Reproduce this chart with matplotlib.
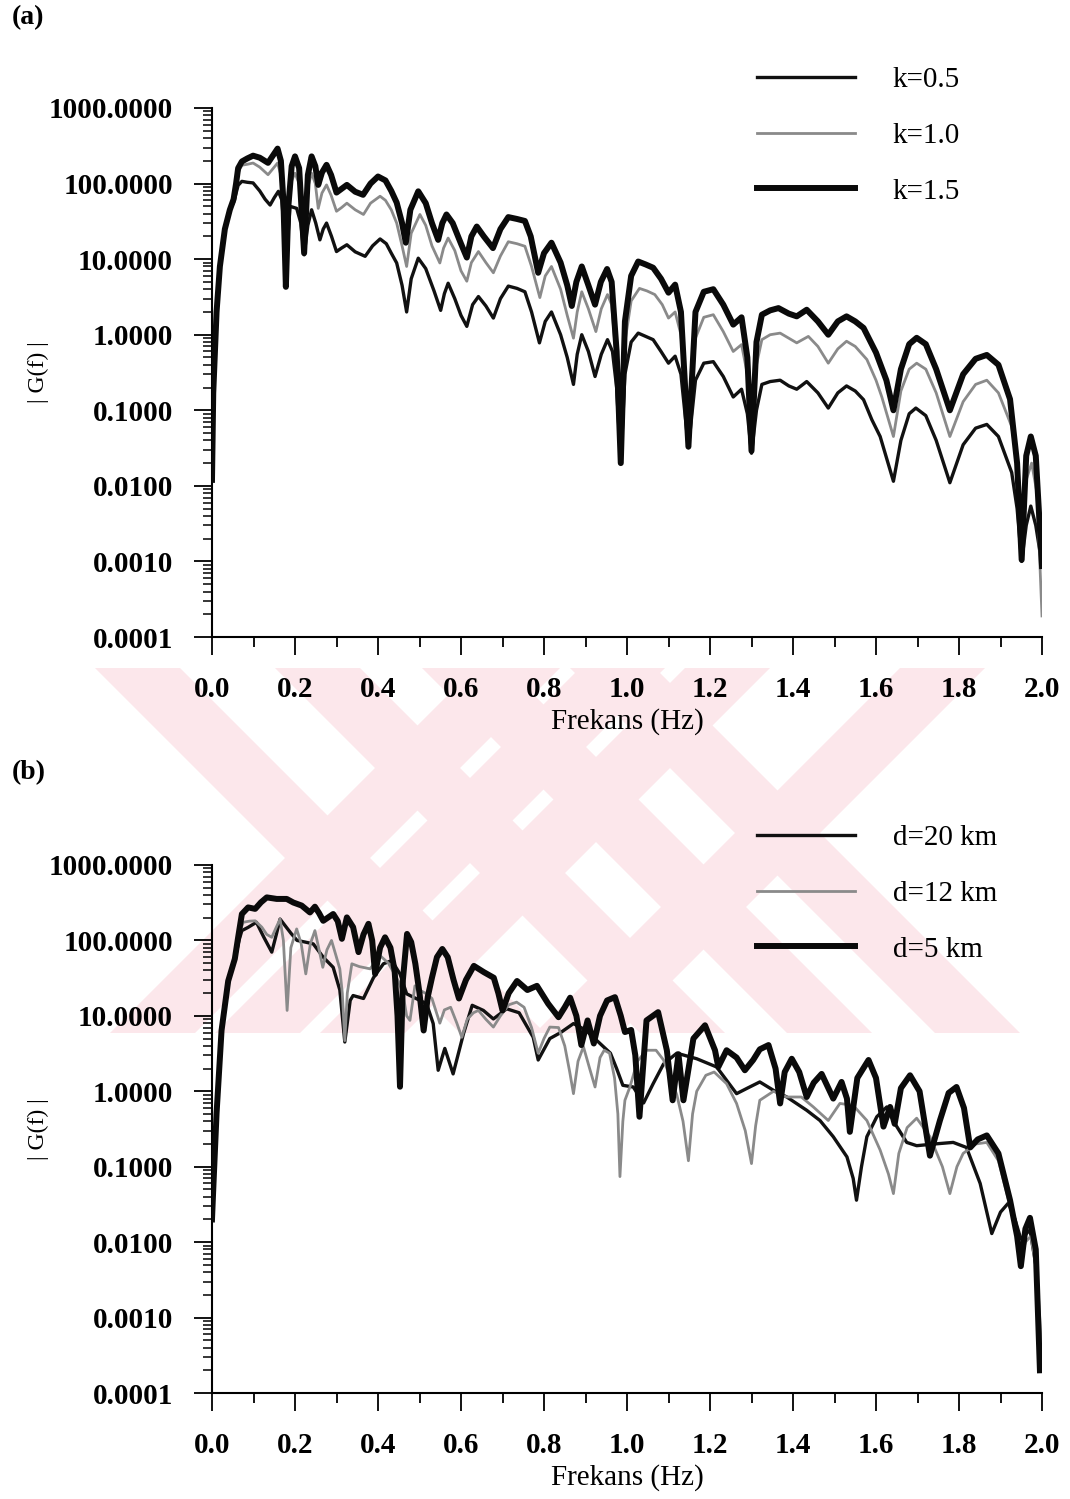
import matplotlib
matplotlib.use("Agg")
import matplotlib.pyplot as plt
from matplotlib.patches import Polygon
from matplotlib.ticker import FixedLocator, MultipleLocator, LogLocator, NullFormatter
import numpy as np

plt.rcParams['font.family'] = ['Liberation Serif', 'DejaVu Serif']

# ---------------- panel (a): k values ----------------
f_k05 = [0.0, 0.003, 0.011, 0.019, 0.031, 0.043, 0.052, 0.058, 0.063, 0.072, 0.085, 0.099, 0.115,
         0.128, 0.140, 0.150, 0.160, 0.168, 0.174, 0.178, 0.183, 0.188, 0.204, 0.214, 0.222, 0.231,
         0.240, 0.250, 0.260, 0.268, 0.276, 0.288, 0.300, 0.312, 0.325, 0.345, 0.369, 0.387, 0.405,
         0.420, 0.432, 0.445, 0.458, 0.469, 0.480, 0.497, 0.515, 0.535, 0.551, 0.560, 0.569, 0.585,
         0.600, 0.614, 0.628, 0.642, 0.660, 0.678, 0.695, 0.714, 0.735, 0.754, 0.770, 0.789, 0.803,
         0.818, 0.840, 0.856, 0.871, 0.880, 0.891, 0.907, 0.923, 0.938, 0.953, 0.965, 0.975, 0.985,
         0.995, 1.010, 1.027, 1.045, 1.063, 1.082, 1.100, 1.116, 1.130, 1.148, 1.165, 1.185, 1.208,
         1.232, 1.256, 1.276, 1.290, 1.300, 1.312, 1.325, 1.345, 1.369, 1.390, 1.409, 1.433, 1.460,
         1.485, 1.508, 1.529, 1.550, 1.570, 1.590, 1.610, 1.642, 1.660, 1.680, 1.696, 1.720, 1.745,
         1.778, 1.810, 1.840, 1.867, 1.895, 1.927, 1.940, 1.951, 1.962, 1.973, 1.985, 2.0]
g_k05 = [0.012, 0.17, 2.0, 8, 25, 45, 56, 75, 95, 107, 104, 102, 80,
         62, 52, 65, 79, 61, 25, 5.9, 20, 50, 47, 30, 11.4, 28,
         45, 30, 18, 25, 30, 20, 12.6, 14, 15.5, 12.5, 10.9, 15, 18.5,
         16, 12, 8.9, 4.5, 2.0, 5.5, 10.3, 7.5, 3.8, 2.1, 3.5, 4.8, 3.0,
         1.8, 1.29, 2.5, 3.2, 2.4, 1.66, 3.0, 4.4, 4.1, 3.7, 2.0, 0.78, 1.5,
         2.0, 1.0, 0.5, 0.22, 0.55, 1.0, 0.6, 0.28, 0.55, 0.86, 0.6, 0.2, 0.02,
         0.3, 0.8, 1.05, 0.95, 0.86, 0.6, 0.42, 0.52, 0.3, 0.032, 0.25, 0.42, 0.44,
         0.28, 0.15, 0.19, 0.09, 0.027, 0.1, 0.22, 0.24, 0.25, 0.21, 0.19, 0.24, 0.17,
         0.107, 0.17, 0.21, 0.18, 0.138, 0.075, 0.045, 0.0115, 0.04, 0.09, 0.107, 0.085, 0.04,
         0.011, 0.035, 0.058, 0.065, 0.045, 0.015, 0.005, 0.001, 0.003, 0.0054, 0.003, 0.0009]

f_k10 = [0.0, 0.003, 0.011, 0.019, 0.031, 0.043, 0.052, 0.058, 0.063, 0.072, 0.085, 0.099, 0.115,
         0.135, 0.148, 0.158, 0.166, 0.172, 0.178, 0.184, 0.192, 0.200, 0.210, 0.222, 0.231, 0.240,
         0.249, 0.256, 0.265, 0.276, 0.287, 0.300, 0.312, 0.325, 0.345, 0.365, 0.382, 0.405, 0.418,
         0.432, 0.445, 0.458, 0.469, 0.480, 0.501, 0.515, 0.530, 0.549, 0.558, 0.569, 0.585, 0.600,
         0.614, 0.625, 0.642, 0.660, 0.678, 0.695, 0.714, 0.735, 0.754, 0.770, 0.790, 0.803, 0.818,
         0.840, 0.856, 0.871, 0.880, 0.891, 0.907, 0.925, 0.938, 0.953, 0.963, 0.975, 0.985, 0.995,
         1.010, 1.030, 1.048, 1.067, 1.085, 1.100, 1.116, 1.130, 1.148, 1.165, 1.185, 1.208, 1.232,
         1.256, 1.276, 1.290, 1.300, 1.312, 1.325, 1.345, 1.369, 1.390, 1.409, 1.437, 1.460, 1.485,
         1.508, 1.529, 1.550, 1.578, 1.600, 1.614, 1.642, 1.660, 1.680, 1.698, 1.720, 1.745, 1.778,
         1.810, 1.840, 1.867, 1.895, 1.927, 1.940, 1.949, 1.962, 1.975, 1.988, 2.0]
g_k10 = [0.012, 0.17, 2.0, 8, 25, 45, 60, 90, 140, 175, 180, 187, 165,
         131, 160, 187, 130, 40, 5, 40, 110, 137, 100, 37, 90, 137,
         100, 47, 75, 96, 70, 43, 48, 55, 45, 39, 55, 68, 60,
         45, 30, 15, 8, 22, 39, 28, 15, 8.9, 14, 19, 13, 7,
         5.1, 9, 12.6, 9, 6.6, 11, 17, 16, 14.8, 8, 3.1, 6, 8,
         4, 1.8, 0.9, 2.0, 3.7, 2.2, 1.1, 2.2, 3.4, 2.5, 0.4, 0.02, 0.8,
         2.8, 4.1, 3.8, 3.4, 2.5, 1.66, 2.0, 1.0, 0.045, 0.9, 1.7, 1.84, 1.1,
         0.60, 0.74, 0.3, 0.03, 0.4, 0.86, 1.0, 1.05, 0.9, 0.78, 0.95, 0.7, 0.42,
         0.65, 0.82, 0.7, 0.47, 0.25, 0.15, 0.045, 0.18, 0.35, 0.42, 0.35, 0.17, 0.045,
         0.13, 0.22, 0.25, 0.17, 0.061, 0.02, 0.0044, 0.012, 0.02, 0.008, 0.00019]

f_k15 = [0.0, 0.003, 0.011, 0.019, 0.031, 0.043, 0.052, 0.058, 0.063, 0.072, 0.085, 0.099, 0.115,
         0.135, 0.148, 0.158, 0.166, 0.172, 0.178, 0.184, 0.192, 0.200, 0.210, 0.222, 0.231, 0.240,
         0.249, 0.256, 0.265, 0.276, 0.287, 0.300, 0.312, 0.325, 0.345, 0.364, 0.382, 0.400, 0.418,
         0.432, 0.445, 0.458, 0.467, 0.478, 0.497, 0.515, 0.530, 0.545, 0.555, 0.565, 0.580, 0.600,
         0.614, 0.625, 0.638, 0.655, 0.677, 0.695, 0.714, 0.735, 0.754, 0.768, 0.786, 0.800, 0.818,
         0.840, 0.856, 0.867, 0.878, 0.891, 0.907, 0.923, 0.937, 0.952, 0.963, 0.975, 0.985, 0.995,
         1.010, 1.027, 1.045, 1.063, 1.082, 1.100, 1.116, 1.130, 1.148, 1.165, 1.185, 1.208, 1.232,
         1.256, 1.276, 1.290, 1.300, 1.312, 1.325, 1.345, 1.365, 1.390, 1.409, 1.433, 1.460, 1.485,
         1.508, 1.529, 1.550, 1.570, 1.600, 1.625, 1.642, 1.660, 1.680, 1.698, 1.720, 1.745, 1.778,
         1.810, 1.840, 1.867, 1.895, 1.923, 1.940, 1.951, 1.962, 1.973, 1.985, 2.0]
g_k15 = [0.012, 0.17, 2.0, 8, 25, 45, 62, 100, 160, 196, 215, 234, 220,
         188, 240, 290, 200, 60, 4.3, 50, 170, 229, 160, 12, 130, 229,
         170, 96, 140, 177, 130, 76, 85, 96, 78, 71, 100, 124, 110,
         80, 56, 30, 16.5, 45, 79, 55, 30, 18, 30, 39, 30, 16,
         10.5, 20, 27, 20, 14, 25, 36, 34, 32, 20, 6.6, 12, 16.5,
         9, 4.5, 2.4, 5, 8, 4.5, 2.5, 5, 7.4, 5, 0.6, 0.02, 1.5,
         6, 9.3, 8.5, 7.7, 5.5, 3.6, 4.6, 2.0, 0.033, 2.0, 3.7, 4.0, 2.5,
         1.36, 1.7, 0.5, 0.029, 0.8, 1.84, 2.1, 2.25, 1.9, 1.75, 2.14, 1.5, 1.0,
         1.5, 1.75, 1.5, 1.23, 0.58, 0.25, 0.10, 0.35, 0.75, 0.91, 0.75, 0.35, 0.10,
         0.3, 0.48, 0.54, 0.4, 0.14, 0.02, 0.00105, 0.025, 0.045, 0.025, 0.00087]

# ---------------- panel (b): d values ----------------
f_d20 = [0.0, 0.003, 0.011, 0.023, 0.039, 0.055, 0.065, 0.072, 0.087, 0.107, 0.125, 0.144, 0.155,
         0.164, 0.175, 0.190, 0.205, 0.225, 0.244, 0.268, 0.292, 0.308, 0.320, 0.333, 0.340, 0.365,
         0.389, 0.413, 0.433, 0.453, 0.469, 0.485, 0.517, 0.533, 0.545, 0.561, 0.581, 0.606, 0.627,
         0.654, 0.678, 0.710, 0.740, 0.774, 0.786, 0.814, 0.840, 0.871, 0.900, 0.935, 0.960, 0.975,
         0.990, 1.015, 1.040, 1.063, 1.088, 1.120, 1.168, 1.216, 1.264, 1.290, 1.320, 1.353, 1.385,
         1.433, 1.465, 1.497, 1.530, 1.545, 1.553, 1.565, 1.578, 1.602, 1.626, 1.646, 1.674, 1.698,
         1.740, 1.786, 1.818, 1.851, 1.879, 1.900, 1.919, 1.935, 1.949, 1.971, 1.985, 1.995]
g_d20 = [0.02, 0.05, 0.51, 6.4, 29, 55, 100, 135, 149, 174, 110, 70, 120,
         192, 160, 125, 100, 95, 90, 60, 44, 22, 4.5, 16, 18.6, 17,
         32, 49, 54, 36, 19.6, 17.7, 14.5, 7.9, 1.9, 3.7, 1.7, 5.8, 13.8,
         11.8, 9.1, 12.4, 11, 5.2, 2.6, 5, 6, 7.9, 6.5, 4.3, 3.2, 2.0,
         1.2, 1.14, 0.7, 1.26, 2.3, 3.2, 2.7, 2.1, 0.93, 1.1, 1.33, 1.03, 0.84,
         0.56, 0.41, 0.25, 0.135, 0.07, 0.036, 0.1, 0.25, 0.46, 0.62, 0.37, 0.21, 0.19,
         0.2, 0.21, 0.18, 0.06, 0.013, 0.025, 0.033, 0.02, 0.011, 0.0145, 0.005, 0.0002]

f_d12 = [0.0, 0.003, 0.011, 0.023, 0.039, 0.055, 0.065, 0.075, 0.090, 0.104, 0.120, 0.132, 0.144,
         0.155, 0.164, 0.172, 0.181, 0.190, 0.204, 0.215, 0.226, 0.237, 0.248, 0.257, 0.267, 0.277,
         0.288, 0.298, 0.308, 0.314, 0.320, 0.326, 0.337, 0.355, 0.381, 0.405, 0.425, 0.449, 0.460,
         0.469, 0.477, 0.489, 0.500, 0.517, 0.530, 0.549, 0.560, 0.575, 0.590, 0.602, 0.615, 0.630,
         0.642, 0.660, 0.678, 0.695, 0.715, 0.734, 0.752, 0.770, 0.786, 0.800, 0.814, 0.835, 0.850,
         0.862, 0.871, 0.882, 0.895, 0.910, 0.923, 0.935, 0.945, 0.958, 0.970, 0.978, 0.983, 0.990,
         0.995, 1.007, 1.025, 1.047, 1.070, 1.088, 1.104, 1.120, 1.135, 1.148, 1.158, 1.168, 1.190,
         1.210, 1.240, 1.264, 1.285, 1.300, 1.310, 1.320, 1.353, 1.385, 1.420, 1.449, 1.485, 1.513,
         1.545, 1.578, 1.610, 1.630, 1.642, 1.655, 1.675, 1.698, 1.730, 1.760, 1.778, 1.795, 1.810,
         1.840, 1.867, 1.895, 1.923, 1.940, 1.949, 1.960, 1.973, 1.988, 2.0]
g_d12 = [0.02, 0.05, 0.51, 6.4, 29, 57, 120, 174, 180, 182, 150, 120, 110,
         150, 192, 100, 11.8, 80, 142, 90, 36, 90, 135, 80, 44, 75,
         100, 65, 42, 20, 4.7, 20, 49, 45, 42, 63, 50, 29, 20,
         10, 8.7, 25, 22, 19.6, 17, 8, 12, 13, 8, 5.2, 9, 11,
         11.8, 9, 7.1, 10, 14, 15.2, 13, 7, 3.2, 5, 7.1, 7, 4,
         1.8, 0.93, 2.5, 3.9, 2.0, 1.14, 2.8, 3.5, 3.2, 1.5, 0.5, 0.074, 0.4,
         0.76, 1.14, 2.5, 3.5, 3.5, 2.6, 1.55, 0.9, 0.4, 0.12, 0.5, 1.0, 1.63,
         1.8, 1.26, 0.69, 0.3, 0.11, 0.35, 0.76, 1.0, 0.84, 0.84, 0.62, 0.41, 0.69,
         0.65, 0.41, 0.166, 0.08, 0.044, 0.15, 0.33, 0.44, 0.25, 0.1, 0.044, 0.1, 0.15,
         0.2, 0.21, 0.12, 0.03, 0.012, 0.006, 0.01, 0.012, 0.004, 0.0003]

f_d05 = [0.0, 0.003, 0.011, 0.023, 0.039, 0.055, 0.063, 0.072, 0.087, 0.104, 0.118, 0.132, 0.156,
         0.180, 0.196, 0.216, 0.236, 0.248, 0.258, 0.268, 0.292, 0.303, 0.313, 0.325, 0.340, 0.353,
         0.365, 0.377, 0.386, 0.393, 0.405, 0.417, 0.430, 0.440, 0.447, 0.453, 0.460, 0.470, 0.480,
         0.490, 0.500, 0.510, 0.520, 0.530, 0.542, 0.555, 0.568, 0.582, 0.595, 0.612, 0.631, 0.655,
         0.679, 0.690, 0.700, 0.715, 0.735, 0.760, 0.783, 0.810, 0.835, 0.850, 0.863, 0.878, 0.890,
         0.905, 0.920, 0.935, 0.952, 0.971, 0.985, 0.995, 1.010, 1.020, 1.030, 1.047, 1.075, 1.096,
         1.110, 1.124, 1.136, 1.160, 1.188, 1.212, 1.220, 1.240, 1.264, 1.284, 1.304, 1.320, 1.341,
         1.358, 1.369, 1.380, 1.397, 1.415, 1.433, 1.450, 1.469, 1.497, 1.517, 1.530, 1.537, 1.555,
         1.582, 1.600, 1.618, 1.634, 1.645, 1.660, 1.682, 1.705, 1.730, 1.754, 1.775, 1.794, 1.812,
         1.827, 1.845, 1.867, 1.895, 1.923, 1.940, 1.949, 1.960, 1.971, 1.985, 1.995]
g_d05 = [0.02, 0.05, 0.51, 6.4, 29, 57, 110, 224, 274, 262, 320, 372, 355,
         355, 318, 290, 235, 280, 230, 182, 224, 180, 105, 202, 150, 70,
         120, 166, 100, 36, 80, 110, 80, 40, 10, 1.15, 30, 122, 95,
         49, 20, 6.4, 18, 32, 60, 77, 60, 30, 17, 30, 46, 38,
         32, 20, 11.8, 20, 29, 22, 25, 14.5, 9.6, 13, 17.4, 10, 4.1,
         8.7, 4.3, 10, 16, 17.7, 10, 6.1, 6.5, 3.0, 0.46, 8.7, 11.2, 3.5,
         0.76, 3.1, 0.76, 5, 7.5, 3.5, 2.1, 3.5, 2.8, 1.9, 2.6, 3.6, 4.1,
         2.0, 0.69, 1.8, 2.7, 1.8, 0.84, 1.3, 1.7, 0.80, 1.33, 0.8, 0.29, 1.5,
         2.6, 1.5, 0.34, 0.62, 0.37, 1.1, 1.63, 1.0, 0.14, 0.41, 0.95, 1.14, 0.6,
         0.18, 0.23, 0.26, 0.15, 0.036, 0.012, 0.0048, 0.015, 0.021, 0.008, 0.0002]

y_ticks = [1e-4, 1e-3, 1e-2, 1e-1, 1e0, 1e1, 1e2, 1e3]
x_ticks = [0.0, 0.2, 0.4, 0.6, 0.8, 1.0, 1.2, 1.4, 1.6, 1.8, 2.0]

W, H = 1070, 1499
fig = plt.figure(figsize=(W / 100, H / 100), dpi=100)


def px(x, y):
    return (x / W, 1 - y / H)


# faint pink scan watermark (diagonal stripes between y=668 and y=1033 px)
pink = '#fce7eb'
top, bot = 668, 1033
shift = bot - top
for x0 in [110, 215, 320, 535]:          # "/" stripes, x at the bottom edge
    poly = [(x0, bot), (x0 + 85, bot), (x0 + 85 + shift, top), (x0 + shift, top)]
    fig.patches.append(Polygon([px(*p) for p in poly], closed=True, transform=fig.transFigure,
                               facecolor=pink, edgecolor='none', zorder=-5))
for x0 in [460, 640, 787, 935]:          # "\" stripes, x at the bottom edge
    poly = [(x0, bot), (x0 + 85, bot), (x0 + 85 - shift, top), (x0 - shift, top)]
    fig.patches.append(Polygon([px(*p) for p in poly], closed=True, transform=fig.transFigure,
                               facecolor=pink, edgecolor='none', zorder=-5))


def style_axes(ax):
    ax.set_facecolor('none')
    ax.set_zorder(2)
    ax.set_yscale('log')
    ax.set_xlim(0, 2.0)
    ax.set_ylim(1e-4, 1e3)
    for s in ['top', 'right']:
        ax.spines[s].set_visible(False)
    ax.spines['left'].set_linewidth(1.5)
    ax.spines['bottom'].set_linewidth(1.5)
    ax.xaxis.set_major_locator(FixedLocator(x_ticks))
    ax.xaxis.set_minor_locator(MultipleLocator(0.1))
    ax.set_xticklabels(['%.1f' % v for v in x_ticks])
    ax.yaxis.set_major_locator(FixedLocator(y_ticks))
    ax.yaxis.set_minor_locator(LogLocator(base=10, subs=np.arange(2, 10)))
    ax.yaxis.set_minor_formatter(NullFormatter())
    ax.set_yticklabels(['%.4f' % v for v in y_ticks])
    ax.tick_params(axis='x', which='major', direction='out', length=13, width=1.3, pad=15)
    ax.tick_params(axis='x', which='minor', direction='out', length=7, width=1.3)
    ax.tick_params(axis='y', which='major', direction='out', length=13, width=1.3, pad=15)
    ax.tick_params(axis='y', which='minor', direction='out', length=6.5, width=1.1)
    for lab in ax.get_xticklabels() + ax.get_yticklabels():
        lab.set_fontsize(21)
        lab.set_fontweight('bold')


def draw_panel(rect, series, labels, tag, tag_y, xlabel_y, legend_top):
    ax = fig.add_axes(rect)
    style_axes(ax)
    (f1, g1), (f2, g2), (f3, g3) = series
    l1, = ax.plot(f1, g1, color='#111111', lw=2.4, solid_joinstyle='round', zorder=3)
    l2, = ax.plot(f2, g2, color='#8a8a8a', lw=2.0, solid_joinstyle='round', zorder=4)
    l3, = ax.plot(f3, g3, color='#0a0a0a', lw=4.3, solid_joinstyle='round', zorder=5)
    ax.legend([l1, l2, l3], labels, loc='upper left',
              bbox_to_anchor=px(757, legend_top), bbox_transform=fig.transFigure,
              frameon=False, fontsize=21, handlelength=3.35, handletextpad=1.3,
              labelspacing=1.0, borderpad=0, borderaxespad=0)
    fig.text(*px(12, tag_y), tag, fontsize=20, fontweight='bold', ha='left', va='center')
    fig.text(*px(627, xlabel_y), 'Frekans (Hz)', fontsize=21, ha='center', va='center')
    cy = 1 - (rect[1] + rect[3] / 2)
    fig.text(*px(38, cy * H), '| G(f) |', fontsize=17, rotation=90, ha='center', va='center')
    return ax


ax_a = draw_panel([212 / W, 1 - 637 / H, 830 / W, 529 / H],
                  [(f_k05, g_k05), (f_k10, g_k10), (f_k15, g_k15)],
                  ['k=0.5', 'k=1.0', 'k=1.5'], '(a)', 18, 722, 67)
ax_b = draw_panel([212 / W, 1 - 1393 / H, 830 / W, 528 / H],
                  [(f_d20, g_d20), (f_d12, g_d12), (f_d05, g_d05)],
                  ['d=20 km', 'd=12 km', 'd=5 km'], '(b)', 773, 1478, 825)

fig.savefig('out.png', dpi=100)
